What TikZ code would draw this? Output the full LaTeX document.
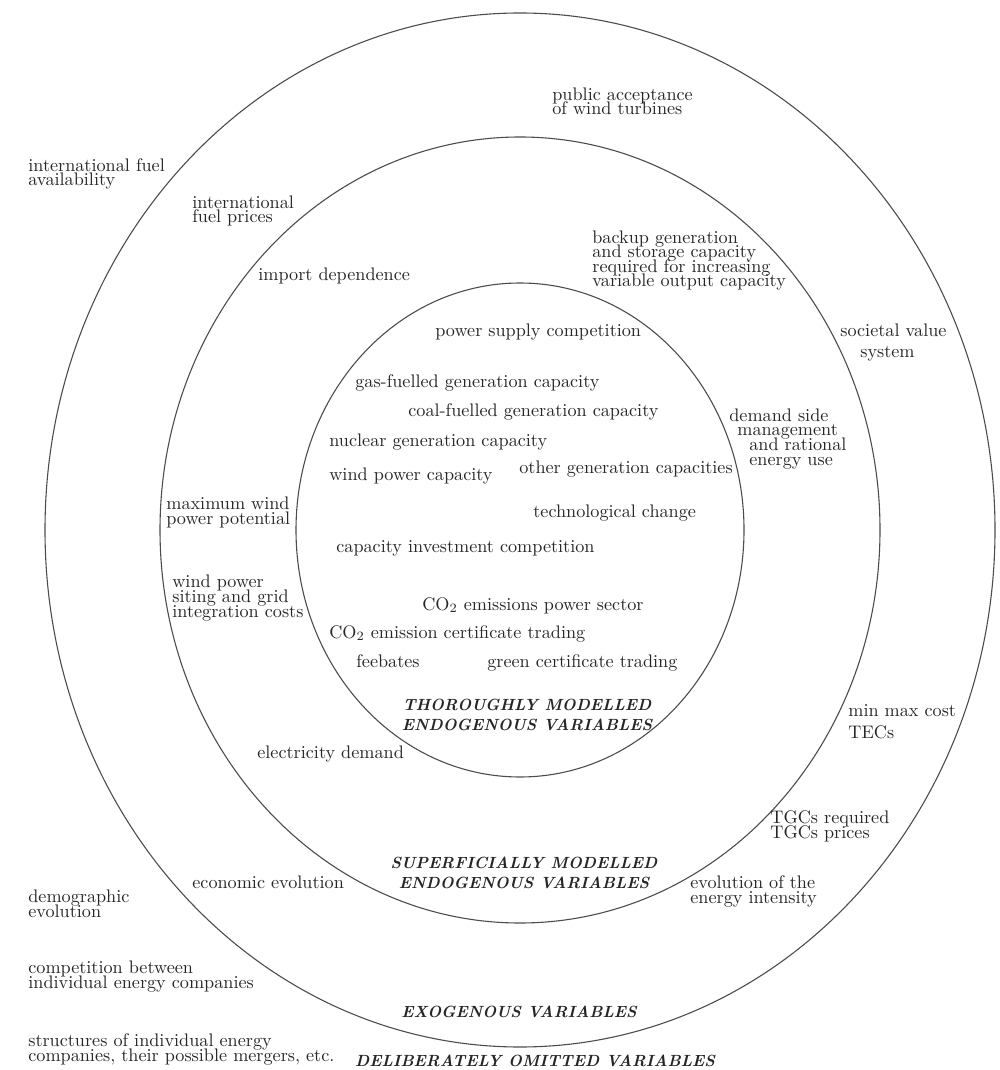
\documentclass[tikz,border=0pt]{standalone}
\newcommand\tightlines{\lineskiplimit=-20pt\relax\lineskip=0pt\relax}
\begin{document}
\begin{tikzpicture}[x=0.55pt,y=-0.55pt]
\tikzset{
  ring/.style={draw=black!70, line width=0.6pt},
  lbl/.style={anchor=base west, inner sep=0pt, text=black!85, align=left,
    font=\fontsize{10}{8}\selectfont\tightlines},
  cat/.style={anchor=base, inner sep=0pt, text=black!85, align=center,
    font=\fontsize{8.9}{11}\selectfont\bfseries\itshape},
}
\useasboundingbox (0,0) rectangle (999,1070);
\fill[white] (0,0) rectangle (999,1070);

% three nested rings
\coordinate (c) at (520,530);
\draw[ring] (c) ellipse [x radius=261.25pt, y radius=284.35pt];
\draw[ring] (c) ellipse [x radius=198pt, y radius=216.15pt];
\draw[ring] (c) ellipse [x radius=123.2pt, y radius=135.85pt];

% outside the outer ring (multi-line labels sit on their last baseline)
\node[lbl] (avail) at (28,186) {international fuel\\availability};
\node[lbl] (demog) at (28,917) {demographic\\evolution};
\node[lbl] (compet) at (28,988) {competition between\\individual energy companies};
\node[lbl] (struct) at (28,1061) {structures of individual energy\\companies, their possible mergers, etc.};

% between outer and middle ring
\node[lbl] (public) at (552,115) {public acceptance\\of wind turbines};
\node[lbl] (fuelpr) at (192,223) {international\\fuel prices};
\node[lbl] (societal) at (840,337) {societal value};
\node[lbl] (system) at (860,358) {system};
\node[lbl] (minmax) at (848,716) {min max cost};
\node[lbl] (tecs) at (848,738) {TECs};
\node[lbl] (tgcs) at (770,838) {TGCs required\\TGCs prices};
\node[lbl] (econ) at (192,888) {economic evolution};
\node[lbl] (intens) at (690,903) {evolution of the\\energy intensity};

% between middle and inner ring
\node[lbl] (import) at (258,281) {import dependence};
\node[lbl] (backup) at (592,287) {backup generation\\and storage capacity\\required for increasing\\variable output capacity};
\node[lbl] (dsm) at (729,465) {demand side\\\hspace*{4.4pt}management\\\hspace*{11pt}and rational\\\hspace*{11pt}energy use};
\node[lbl] (maxwind) at (166,524) {maximum wind\\power potential};
\node[lbl] (siting) at (172,617) {wind power\\siting and grid\\integration costs};
\node[lbl] (elec) at (257,758) {electricity demand};

% inside the inner ring
\node[lbl] (supply) at (435,337) {power supply competition};
\node[lbl] (gas) at (355,388) {gas-fuelled generation capacity};
\node[lbl] (coal) at (408,417) {coal-fuelled generation capacity};
\node[lbl] (nuclear) at (329,446) {nuclear generation capacity};
\node[lbl] (other) at (519,473) {other generation capacities};
\node[lbl] (windcap) at (329,480) {wind power capacity};
\node[lbl] (tech) at (533,517) {technological change};
\node[lbl] (capinv) at (336,552) {capacity investment competition};
\node[lbl] (co2sec) at (422,610) {CO$_2$ emissions power sector};
\node[lbl] (co2cert) at (329,638) {CO$_2$ emission certificate trading};
\node[lbl] (feebates) at (356,667) {feebates};
\node[lbl] (green) at (487,667) {green certificate trading};

% category titles
\node[cat] (thorough) at (527,730) {THOROUGHLY MODELLED\\ENDOGENOUS VARIABLES};
\node[cat] (superf) at (524,888) {SUPERFICIALLY MODELLED\\ENDOGENOUS VARIABLES};
\node[cat] (exog) at (519,1017) {EXOGENOUS VARIABLES};
\node[cat] (omit) at (535,1066) {DELIBERATELY OMITTED VARIABLES};
\end{tikzpicture}
\end{document}
